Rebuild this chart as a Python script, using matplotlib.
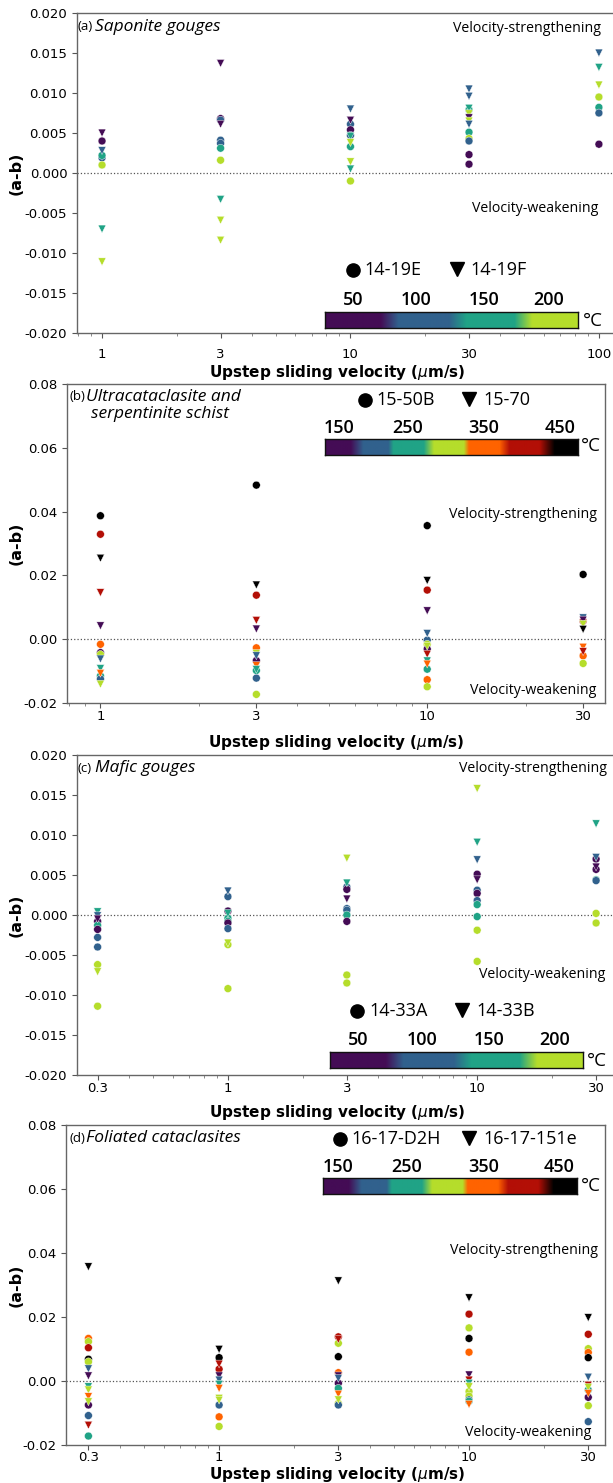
import numpy as np
import matplotlib
matplotlib.use("Agg")
import matplotlib.pyplot as plt
from matplotlib.colors import LinearSegmentedColormap
from matplotlib.ticker import FixedLocator, NullFormatter, LogLocator

W, H = 613, 1483

# ---- data: (a) Saponite gouges, o = 14-19E, v = 14-19F
vel_a = [1, 1, 1, 1, 1, 1, 1, 1,
         3, 3, 3, 3, 3, 3, 3, 3, 3, 3, 3,
         10, 10, 10, 10, 10, 10, 10, 10, 10, 10, 10,
         30, 30, 30, 30, 30, 30, 30, 30, 30, 30, 30, 30, 30,
         100, 100, 100, 100, 100, 100, 100]
ab_a = [0.0040, 0.0019, 0.0022, 0.0010, 0.0050, 0.0028, -0.0070, -0.0111,
        0.0137, 0.0068, 0.0066, 0.0061, 0.0041, 0.0037, 0.0031, 0.0016, -0.0033, -0.0059, -0.0084,
        0.0080, 0.0066, 0.0061, 0.0054, 0.0046, 0.0047, 0.0038, 0.0033, 0.0014, 0.0005, -0.0010,
        0.0105, 0.0096, 0.0081, 0.0079, 0.0074, 0.0069, 0.0065, 0.0061, 0.0051, 0.0043, 0.0040, 0.0023, 0.0011,
        0.0150, 0.0132, 0.0110, 0.0095, 0.0082, 0.0075, 0.0036]
temp_a = [50, 100, 150, 200, 50, 100, 150, 200,
          50, 50, 100, 50, 100, 100, 150, 200, 150, 200, 200,
          100, 50, 100, 50, 150, 100, 200, 150, 200, 150, 200,
          100, 100, 150, 150, 200, 50, 200, 100, 150, 200, 100, 50, 50,
          100, 150, 200, 200, 150, 100, 50]
kind_a = ["o", "o", "o", "o", "v", "v", "v", "v",
          "v", "o", "o", "v", "o", "o", "o", "o", "v", "v", "v",
          "v", "v", "o", "o", "v", "o", "v", "o", "v", "v", "o",
          "v", "v", "v", "o", "v", "v", "v", "v", "o", "o", "o", "o", "o",
          "v", "v", "v", "o", "o", "o", "o"]

# ---- (b) Ultracataclasite and serpentinite schist, o = 15-50B, v = 15-70
vel_b = [1] * 14 + [3] * 14 + [10] * 15 + [30] * 10
ab_b = [0.0387, 0.0329, 0.0254, 0.0146, 0.0042, -0.0016, -0.0042, -0.0048, -0.0062, -0.0092, -0.0107, -0.0115, -0.0125, -0.0141,
        0.0483, 0.0170, 0.0138, 0.0059, 0.0032, -0.0027, -0.0045, -0.0052, -0.0067, -0.0083, -0.0098, -0.0122, -0.0173, -0.0095,
        0.0356, 0.0184, 0.0154, 0.0089, 0.0018, -0.0003, -0.0016, -0.0022, -0.0031, -0.0047, -0.0068, -0.0078, -0.0094, -0.0127, -0.0149,
        0.0203, 0.0067, 0.0057, 0.0060, 0.0047, 0.0031, -0.0025, -0.0039, -0.0052, -0.0076]
temp_b = [450, 400, 450, 400, 150, 350, 150, 300, 200, 250, 350, 250, 200, 300,
          450, 450, 400, 400, 150, 350, 300, 200, 150, 350, 250, 200, 300, 250,
          450, 450, 400, 150, 200, 200, 300, 300, 150, 400, 250, 350, 250, 350, 300,
          450, 200, 400, 150, 300, 450, 350, 400, 350, 300]
kind_b = ["o", "o", "v", "v", "v", "o", "o", "o", "v", "v", "v", "o", "o", "v",
          "o", "v", "o", "v", "v", "o", "v", "v", "o", "v", "o", "o", "o", "v",
          "o", "v", "o", "v", "v", "o", "o", "v", "o", "v", "v", "v", "o", "o", "o",
          "o", "v", "o", "v", "v", "v", "v", "v", "o", "o"]

# ---- (c) Mafic gouges, o = 14-33A, v = 14-33B
vel_c = [0.3] * 11 + [1] * 11 + [3] * 11 + [10] * 12 + [30] * 9
ab_c = [0.0004, -0.0001, -0.0008, -0.0013, -0.0018, -0.0028, -0.0040, -0.0062, -0.0071, -0.0114, -0.0005,
        0.0030, 0.0023, 0.0005, 0.0002, -0.0004, -0.0008, -0.0010, -0.0017, -0.0035, -0.0037, -0.0092,
        0.0071, 0.0040, 0.0035, 0.0032, 0.0020, 0.0008, 0.0006, 0.0000, -0.0008, -0.0075, -0.0085,
        0.0158, 0.0091, 0.0069, 0.0051, 0.0044, 0.0031, 0.0027, 0.0018, 0.0013, -0.0002, -0.0019, -0.0058,
        0.0114, 0.0072, 0.0070, 0.0060, 0.0057, 0.0044, 0.0043, 0.0002, -0.0010]
temp_c = [150, 100, 50, 150, 50, 100, 100, 200, 200, 200, 50,
          100, 100, 50, 150, 150, 150, 50, 100, 200, 200, 200,
          200, 150, 100, 50, 50, 100, 100, 150, 50, 200, 200,
          200, 150, 100, 50, 50, 100, 50, 100, 150, 150, 200, 200,
          150, 100, 50, 50, 50, 150, 100, 200, 200]
kind_c = ["v", "v", "o", "o", "o", "o", "o", "o", "v", "o", "v",
          "v", "o", "o", "v", "o", "o", "o", "o", "v", "o", "o",
          "v", "v", "o", "o", "v", "o", "o", "o", "o", "o", "o",
          "v", "v", "v", "o", "v", "o", "o", "o", "o", "o", "o", "o",
          "v", "v", "o", "v", "o", "o", "o", "o", "o"]

# ---- (d) Foliated cataclasites, o = 16-17-D2H, v = 16-17-151e
vel_d = [0.3] * 16 + [1] * 13 + [3] * 14 + [10] * 14 + [30] * 13
ab_d = [0.0357, 0.0133, 0.0123, 0.0104, 0.0068, 0.0060, 0.0038, 0.0016, -0.0018, -0.0028, -0.0049, -0.0065, -0.0075, -0.0108, -0.0138, -0.0172,
        0.0099, 0.0073, 0.0053, 0.0037, 0.0016, 0.0003, -0.0010, -0.0023, -0.0054, -0.0060, -0.0075, -0.0112, -0.0142,
        0.0313, 0.0138, 0.0130, 0.0118, 0.0076, 0.0026, 0.0016, 0.0008, -0.0007, -0.0023, -0.0041, -0.0059, -0.0070, -0.0075,
        0.0260, 0.0209, 0.0166, 0.0133, 0.0090, 0.0019, 0.0003, -0.0007, -0.0018, -0.0033, -0.0047, -0.0059, -0.0063, -0.0073,
        0.0198, 0.0146, 0.0101, 0.0089, 0.0073, 0.0012, -0.0013, -0.0020, -0.0028, -0.0039, -0.0051, -0.0077, -0.0127]
temp_d = [450, 350, 300, 400, 450, 300, 200, 150, 250, 300, 350, 300, 150, 200, 400, 250,
          450, 450, 400, 400, 150, 200, 250, 350, 300, 300, 200, 350, 300,
          450, 400, 400, 300, 450, 350, 150, 200, 150, 250, 350, 300, 300, 200,
          450, 400, 300, 450, 350, 150, 400, 250, 300, 300, 300, 200, 250, 350,
          450, 400, 300, 350, 450, 200, 400, 300, 250, 350, 150, 300, 200]
kind_d = ["v", "o", "o", "o", "o", "o", "v", "v", "v", "v", "v", "v", "o", "o", "v", "o",
          "v", "o", "v", "o", "v", "v", "v", "v", "v", "v", "o", "o", "o",
          "v", "o", "v", "o", "o", "o", "v", "v", "o", "o", "v", "v", "o", "o",
          "v", "o", "o", "o", "o", "v", "v", "v", "v", "o", "o", "o", "o", "v",
          "v", "o", "o", "o", "o", "v", "v", "v", "o", "v", "o", "o", "o"]

PURPLE, BLUE, TEAL, YEL = "#440c55", "#31618d", "#20a386", "#b5dd2b"
ORANGE, RED, BLACK = "#ff6300", "#b30f06", "#000000"
col_low = {50: PURPLE, 100: BLUE, 150: TEAL, 200: YEL}
col_high = {150: PURPLE, 200: BLUE, 250: TEAL, 300: YEL, 350: ORANGE, 400: RED, 450: BLACK}

cmap_low = LinearSegmentedColormap.from_list("low", [
    (0, PURPLE), (0.22, PURPLE), (0.29, BLUE), (0.49, BLUE), (0.56, TEAL),
    (0.75, TEAL), (0.82, YEL), (1, YEL)])
cmap_high = LinearSegmentedColormap.from_list("high", [
    (0, PURPLE), (0.10, PURPLE), (0.15, BLUE), (0.25, BLUE), (0.27, TEAL),
    (0.39, TEAL), (0.43, YEL), (0.55, YEL), (0.57, ORANGE), (0.69, ORANGE),
    (0.73, RED), (0.85, RED), (0.91, BLACK), (1, BLACK)])

panels = [
    dict(vel=vel_a, ab=ab_a, temp=temp_a, kind=kind_a, cols=col_low,
         box=(77, 13, 614, 333), xlim=(0.793, 115), ylim=(-0.02, 0.02), xpad=7,
         yticks=[-0.02, -0.015, -0.01, -0.005, 0, 0.005, 0.01, 0.015, 0.02], yfmt="%.3f",
         xticks=[1, 3, 10, 30, 100], xtl=["1", "3", "10", "30", "100"]),
    dict(vel=vel_b, ab=ab_b, temp=temp_b, kind=kind_b, cols=col_high,
         box=(67, 384, 605, 703), xlim=(0.79, 35.0), ylim=(-0.02, 0.08), xpad=1.5,
         yticks=[-0.02, 0, 0.02, 0.04, 0.06, 0.08], yfmt="%.2f",
         xticks=[1, 3, 10, 30], xtl=["1", "3", "10", "30"]),
    dict(vel=vel_c, ab=ab_c, temp=temp_c, kind=kind_c, cols=col_low,
         box=(77, 755, 614, 1075), xlim=(0.248, 35.4), ylim=(-0.02, 0.02), xpad=1.5,
         yticks=[-0.02, -0.015, -0.01, -0.005, 0, 0.005, 0.01, 0.015, 0.02], yfmt="%.3f",
         xticks=[0.3, 1, 3, 10, 30], xtl=["0.3", "1", "3", "10", "30"]),
    dict(vel=vel_d, ab=ab_d, temp=temp_d, kind=kind_d, cols=col_high,
         box=(66, 1125, 605, 1445), xlim=(0.244, 35.0), ylim=(-0.02, 0.08), xpad=0.5,
         yticks=[-0.02, 0, 0.02, 0.04, 0.06, 0.08], yfmt="%.2f",
         xticks=[0.3, 1, 3, 10, 30], xtl=["0.3", "1", "3", "10", "30"]),
]

TXT = ["Open Sans", "DejaVu Sans"]
fig = plt.figure(figsize=(W / 100, H / 100), dpi=100)

for p in panels:
    l, t, r, b = p["box"]
    ax = fig.add_axes([l / W, 1 - b / H, (r - l) / W, (b - t) / H])
    ax.set_xscale("log")
    ax.set_xlim(*p["xlim"]); ax.set_ylim(*p["ylim"])
    ax.axhline(0, color="#555555", ls=":", lw=0.9, zorder=1)
    for k in ["o", "v"]:
        idx = [i for i, kk in enumerate(p["kind"]) if kk == k]
        ax.scatter([p["vel"][i] for i in idx], [p["ab"][i] for i in idx],
                   c=[p["cols"][p["temp"][i]] for i in idx], marker=k, s=32,
                   edgecolors="white", linewidths=0.3, zorder=3)
    ax.xaxis.set_major_locator(FixedLocator(p["xticks"]))
    ax.set_xticklabels(p["xtl"])
    ax.xaxis.set_minor_locator(LogLocator(base=10, subs=np.arange(2, 10)))
    ax.xaxis.set_minor_formatter(NullFormatter())
    ax.set_yticks(p["yticks"])
    ax.set_yticklabels([p["yfmt"] % v for v in p["yticks"]])
    ax.tick_params(axis="both", labelsize=9.5, color="#555555", length=3.5, width=0.8)
    ax.tick_params(axis="x", which="major", pad=p["xpad"])
    ax.tick_params(axis="x", which="minor", length=2, color="#777777")
    for s in ax.spines.values():
        s.set_color("#666666"); s.set_linewidth(1.0)

# overlay in pixel coordinates for annotations
ov = fig.add_axes([0, 0, 1, 1], zorder=10)
ov.set_xlim(0, W); ov.set_ylim(H, 0); ov.axis("off")
ov.patch.set_alpha(0)

def colorbar(x0, y0, x1, y1, cmap, labels, lab_x, lab_y, deg_x, deg_y):
    cax = fig.add_axes([x0 / W, 1 - y1 / H, (x1 - x0) / W, (y1 - y0) / H], zorder=11)
    cax.imshow(np.linspace(0, 1, 256)[None, :], aspect="auto", cmap=cmap)
    cax.set_xticks([]); cax.set_yticks([])
    for s in cax.spines.values():
        s.set_linewidth(1.0); s.set_color("#111111")
    for lab, lx in zip(labels, lab_x):
        ov.text(lx, lab_y, lab, ha="center", va="center", fontsize=13,
                fontweight="semibold", family=TXT)
    ov.text(deg_x, deg_y, "\u00b0C", ha="left", va="center", fontsize=13.5, family=TXT)

def legend(cx, tx, vx, vtx, y, l1, l2):
    ov.plot([cx], [y], "o", color="black", ms=9.5)
    ov.text(tx, y, l1, ha="left", va="center", fontsize=13, family=TXT)
    ov.plot([vx], [y - 1], "v", color="black", ms=10)
    ov.text(vtx, y, l2, ha="left", va="center", fontsize=13, family=TXT)

VS = 10.2
# panel (a)
ov.text(78, 27, "(a)", fontsize=9.5, va="center", family=TXT)
ov.text(95, 27, "Saponite gouges", fontsize=12.5, style="italic", va="center", family=TXT)
ov.text(601, 29, "Velocity-strengthening", ha="right", va="center", fontsize=VS, family=TXT)
ov.text(598, 208, "Velocity-weakening", ha="right", va="center", fontsize=VS, family=TXT)
legend(353, 364, 457, 470, 270, "14-19E", "14-19F")
colorbar(325, 312, 578, 328, cmap_low, ["50", "100", "150", "200"], [353, 416, 484, 549], 300, 583, 321)

# panel (b)
ov.text(69, 397, "(b)", fontsize=9.5, va="center", family=TXT)
ov.text(86, 397, "Ultracataclasite and", fontsize=12.5, style="italic", va="center", family=TXT)
ov.text(91, 414, "serpentinite schist", fontsize=12.5, style="italic", va="center", family=TXT)
ov.text(597, 514, "Velocity-strengthening", ha="right", va="center", fontsize=VS, family=TXT)
ov.text(596, 690, "Velocity-weakening", ha="right", va="center", fontsize=VS, family=TXT)
legend(365, 376, 469, 483, 400, "15-50B", "15-70")
colorbar(325, 439, 578, 455, cmap_high, ["150", "250", "350", "450"], [339, 408, 484, 560], 428, 581, 446)

# panel (c)
ov.text(78, 768, "(c)", fontsize=9.5, va="center", family=TXT)
ov.text(95, 768, "Mafic gouges", fontsize=12.5, style="italic", va="center", family=TXT)
ov.text(607, 768, "Velocity-strengthening", ha="right", va="center", fontsize=VS, family=TXT)
ov.text(605, 975, "Velocity-weakening", ha="right", va="center", fontsize=VS, family=TXT)
legend(357, 369, 462, 476, 1011, "14-33A", "14-33B")
colorbar(330, 1052, 583, 1068, cmap_low, ["50", "100", "150", "200"], [358, 422, 489, 555], 1040, 587, 1061)

# panel (d)
ov.text(69, 1138, "(d)", fontsize=9.5, va="center", family=TXT)
ov.text(86, 1138, "Foliated cataclasites", fontsize=12.5, style="italic", va="center", family=TXT)
ov.text(598, 1251, "Velocity-strengthening", ha="right", va="center", fontsize=VS, family=TXT)
ov.text(591, 1432, "Velocity-weakening", ha="right", va="center", fontsize=VS, family=TXT)
legend(340, 351, 469, 483, 1139, "16-17-D2H", "16-17-151e")
colorbar(323, 1178, 577, 1194, cmap_high, ["150", "250", "350", "450"], [338, 407, 484, 559], 1167, 581, 1186)

# axis titles
for (l, t, r, b) in [p["box"] for p in panels]:
    ov.text(16, (t + b) / 2, "(a-b)", rotation=90, ha="center", va="center",
            fontsize=11.5, fontweight="bold")
xl = r"Upstep sliding velocity ($\mu$m/s)"
for xc, y in [(337, 372), (336, 742), (337, 1112), (337, 1475)]:
    ov.text(xc, y, xl, ha="center", va="center", fontsize=11, fontweight="bold")

fig.savefig("out.png", dpi=100)
